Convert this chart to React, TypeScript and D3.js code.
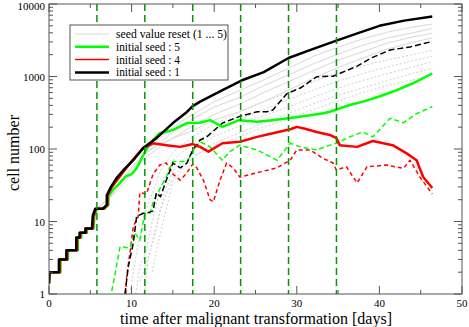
import * as d3 from "d3";

// [day, cell number] pairs
const seed1Solid: [number, number][] = [[0,1.4],[0.05,2],[1.2,2],[1.2,3],[2.1,3],[2.1,4],[3.3,4],[3.3,6],[3.7,6],[3.7,7],[4.4,7],[4.4,8],[5.2,8],[5.3,12],[5.6,15],[6.5,15],[7.0,17],[7.0,23],[7.5,30],[8.2,40],[9,51],[10.2,70],[11.4,103],[13,141],[15,228],[16.7,324],[17.4,390],[18.3,450],[21,650],[23.3,880],[26,1150],[29,1800],[32,2400],[34.8,3130],[37.5,4000],[40,5000],[43,5900],[46.4,6700]];
const seed5Solid: [number, number][] = [[0,1.4],[0.1,2],[1.4,2],[1.4,3],[2.3,3],[2.3,4],[3.5,4],[3.5,6],[3.9,6],[3.9,7],[4.6,7],[4.6,8],[5.4,8],[5.5,12],[5.8,15],[6.7,15],[7.2,17],[7.2,22],[7.8,28],[8.5,33],[9.3,42],[10,45],[10.6,54],[11.4,82],[12.2,120],[13.4,165],[15,183],[16.7,228],[18.3,230],[19.5,250],[21,202],[23,250],[25.2,238],[27,250],[29.2,267],[31,285],[33.2,312],[34,327],[36.4,405],[38,450],[40,530],[42.1,650],[44,800],[46.4,1100]];
const seed4Solid: [number, number][] = [[0,1.4],[0.05,2],[1.3,2],[1.3,3],[2.2,3],[2.2,4],[3.4,4],[3.4,6],[3.8,6],[3.8,7],[4.5,7],[4.5,8],[5.3,8],[5.4,12],[5.7,15],[6.6,15],[7.1,17],[7.1,23],[7.6,30],[8.3,38],[9.1,50],[10.2,72],[11.4,103],[12.6,120],[14.2,113],[15.9,107],[17.4,117],[18.3,107],[19.3,92],[21,120],[23.1,126],[25.2,147],[27.1,165],[29.2,187],[30,202],[31,190],[32.4,172],[34,156],[34.8,141],[35.2,113],[37.3,107],[39.2,129],[41.6,113],[43.3,87],[44.5,70],[45.3,41],[46.4,29]];
const seed1Dashed: [number, number][] = [[9.2,1],[9.6,2.4],[10.2,5],[10.6,11.6],[11.4,13],[11.8,13],[12.6,14],[13,25],[13.5,22],[14.2,37],[15,64],[15.9,55],[16.7,64],[17.4,97],[18.3,133],[19.1,147],[21,228],[23.1,282],[25.2,327],[26.4,327],[27.1,346],[28.8,580],[30.5,700],[32.4,990],[34.4,1010],[37.3,1390],[39,1800],[41.3,2320],[43.7,2560],[46.4,3040]];
const seed5Dashed: [number, number][] = [[7.6,1.1],[8,1.9],[8.6,4.5],[9.8,4.3],[10.4,7],[11,5.5],[11.6,13],[12.2,13],[12.6,18],[13,23],[14.2,41],[15,67],[16.7,67],[17.4,92],[18.3,126],[19.5,107],[21,70],[21.9,92],[23.1,113],[25.2,97],[27.6,70],[29.2,120],[30.4,107],[32.4,97],[34,113],[34.8,120],[36.4,147],[38,172],[39.2,147],[41.3,265],[42.9,230],[44.5,308],[46.4,383]];
const seed4Dashed: [number, number][] = [[9.3,1.0],[9.4,1.7],[9.8,3.7],[10.2,8.5],[10.8,11.7],[11,25],[11.8,24],[12.6,45],[13.4,60],[14.2,64],[15,45],[15.9,37],[16.7,47],[17.4,62],[17.9,55],[18.7,37],[19.5,20],[19.9,18.7],[20.7,37],[21.5,64],[22.3,55],[23.1,41],[25.2,47],[27.6,55],[29.2,70],[30,97],[31.6,97],[33.2,74],[34.4,64],[34.8,51],[36,57],[37.3,34],[38.5,57],[40.9,60],[42.9,54],[43.7,70],[44.9,41],[46.4,24]];

const resetSolid: [number, number][][] = [
  [[5.8,15],[7,20],[8.5,35],[10,55],[11.6,90],[13,130],[15,200],[17.4,300],[20,450],[23.2,650],[26,900],[29,1300],[32,1900],[34.8,2500],[38,3300],[41,4100],[43.5,4700],[46.4,5300]],
  [[5.8,15],[7.5,22],[9,38],[11,70],[11.6,85],[13,110],[15,170],[17.4,260],[20,380],[23.2,520],[26,750],[29,1050],[32,1500],[34.8,2000],[38,2700],[41,3400],[44,4000],[46.4,4600]],
  [[5.8,15],[8,25],[10,45],[11.6,75],[14,120],[17.4,210],[20,300],[23.2,420],[26,600],[29,850],[32,1200],[34.8,1650],[38,2200],[41,2900],[44,3500],[46.4,3950]],
  [[11.6,90],[13,110],[15,140],[17.4,180],[20,250],[23.2,330],[26,450],[29,650],[32,950],[34.8,1300],[38,1800],[41,2400],[44,2950],[46.4,3400]],
];
const resetDotted: [number, number][][] = [
  [[9.8,1],[10.2,2],[10.8,5],[11.5,12],[12.5,25],[13.5,50],[15,90],[17.4,150],[20,220],[23.2,330],[26,450],[29,600],[32,850],[34.8,1100],[38,1400],[41,1700],[44,2000],[46.4,2300]],
  [[10.5,1],[11,2.5],[11.8,4],[12.5,10],[13.5,30],[15,70],[17.4,120],[20,180],[23.2,260],[26,350],[29,480],[32,650],[34.8,850],[38,1100],[41,1350],[44,1650],[46.4,1900]],
  [[11.5,1],[12,3],[13,8],[14,25],[15,50],[17.4,95],[20,150],[23.2,210],[26,290],[29,380],[32,520],[34.8,680],[38,880],[41,1100],[44,1350],[46.4,1600]],
  [[12.5,2],[13,4],[14,12],[15,35],[17.4,75],[20,120],[23.2,170],[26,230],[29,310],[32,420],[34.8,540],[38,700],[41,880],[44,1100],[46.4,1300]],
  [[11,1.5],[12,3],[13.5,15],[15,40],[17.4,80],[20,110],[23.2,150],[26,200],[29,260],[32,350],[34.8,450],[38,600],[41,750],[44,900],[46.4,1050]],
];

const resetDays = [5.8, 11.6, 17.4, 23.2, 29.0, 34.8];
const xMajor = [0, 10, 20, 30, 40, 50];
const yMajor = [1, 10, 100, 1000, 10000];
const legendLabels = ["seed value reset (1 ... 5)", "initial seed : 5", "initial seed : 4", "initial seed : 1"];

export default function App() {
  const width = 469;
  const height = 327;
  const left = 49, right = 462, top = 4, bottom = 294;
  const font = '"Liberation Serif", "Times New Roman", "DejaVu Serif", serif';
  const frame = "#555";

  const x = d3.scaleLinear().domain([0, 50]).range([left, right]);
  const y = d3.scaleLog().domain([1, 10000]).range([bottom, top]);
  const line = d3.line<[number, number]>().x(d => x(d[0])).y(d => y(d[1]));

  const xMinor = x.ticks(10).filter(t => !xMajor.includes(t));
  const yMinor = y.ticks().filter(t => !yMajor.includes(t));

  const legend = [
    { stroke: "#d8d8d8", w: 1, len: 111 },
    { stroke: "#00ff00", w: 2.5, len: 64 },
    { stroke: "#ff0000", w: 1.5, len: 64 },
    { stroke: "#000000", w: 2.5, len: 64 },
  ];

  return (
    <svg width={width} height={height} style={{ position: "absolute", left: 0, top: 0, background: "#fff", fontFamily: font }}>
      <rect x={0} y={0} width={width} height={height} fill="#fff" />
      <defs>
        <clipPath id="plot"><rect x={left} y={top} width={right - left} height={bottom - top} /></clipPath>
      </defs>

      <g clipPath="url(#plot)" fill="none" strokeLinejoin="round">
        {resetDotted.map((s, i) => (
          <path key={"d" + i} d={line(s)!} stroke="#d0d0d0" strokeWidth={1} strokeDasharray="2,2" />
        ))}
        {resetSolid.map((s, i) => (
          <path key={"s" + i} d={line(s)!} stroke="#d8d8d8" strokeWidth={1} />
        ))}
        <path d={line(seed4Dashed)!} stroke="#ff0000" strokeWidth={1.5} strokeDasharray="4,3" />
        <path d={line(seed5Dashed)!} stroke="#00ff00" strokeWidth={1.5} strokeDasharray="5,3" />
        <path d={line(seed1Dashed)!} stroke="#000" strokeWidth={1.5} strokeDasharray="6,3" />
        <path d={line(seed5Solid)!} stroke="#00ff00" strokeWidth={2.5} />
        <path d={line(seed4Solid)!} stroke="#ff0000" strokeWidth={2.5} />
        <path d={line(seed1Solid)!} stroke="#000" strokeWidth={2.5} />
        {resetDays.map(d => (
          <line key={d} x1={x(d)} x2={x(d)} y1={top} y2={bottom} stroke="#009900" strokeWidth={1.5} strokeDasharray="7,4" />
        ))}
      </g>

      <rect x={left} y={top} width={right - left} height={bottom - top} fill="none" stroke={frame} strokeWidth={1} />

      <g stroke={frame} strokeWidth={1}>
        {xMajor.map(t => (
          <g key={"xm" + t}>
            <line x1={x(t)} x2={x(t)} y1={bottom} y2={bottom - 8} />
            <line x1={x(t)} x2={x(t)} y1={top} y2={top + 8} />
          </g>
        ))}
        {xMinor.map(t => (
          <g key={"xn" + t}>
            <line x1={x(t)} x2={x(t)} y1={bottom} y2={bottom - 4} />
            <line x1={x(t)} x2={x(t)} y1={top} y2={top + 4} />
          </g>
        ))}
        {yMajor.map(t => (
          <g key={"ym" + t}>
            <line x1={left} x2={left + 8} y1={y(t)} y2={y(t)} />
            <line x1={right} x2={right - 8} y1={y(t)} y2={y(t)} />
          </g>
        ))}
        {yMinor.map(t => (
          <g key={"yn" + t}>
            <line x1={left} x2={left + 4} y1={y(t)} y2={y(t)} />
            <line x1={right} x2={right - 4} y1={y(t)} y2={y(t)} />
          </g>
        ))}
      </g>

      <g fontSize={11} fill="#000">
        {xMajor.map(t => (
          <text key={"xl" + t} x={x(t)} y={bottom + 13} textAnchor="middle">{t}</text>
        ))}
        {yMajor.map(t => (
          <text key={"yl" + t} x={left - 4} y={Math.max(y(t) + 4, 10)} textAnchor="end">{t}</text>
        ))}
      </g>

      <text x={256} y={324} textAnchor="middle" fontSize={16}>
        time after malignant transformation [days]
      </text>
      <text transform={`translate(19, 153) rotate(-90)`} textAnchor="middle" fontSize={16}>
        cell number
      </text>

      <g>
        <rect x={70} y={25} width={158} height={55} fill="#fff" stroke={frame} strokeWidth={1} />
        {legendLabels.map((l, i) => {
          const ly = 34 + i * 12.8;
          return (
            <g key={l}>
              <line x1={75} x2={109} y1={ly} y2={ly} stroke={legend[i].stroke} strokeWidth={legend[i].w} />
              <text x={116} y={ly + 4} fontSize={11.5} textLength={legend[i].len} lengthAdjust="spacingAndGlyphs">{l}</text>
            </g>
          );
        })}
      </g>
    </svg>
  );
}
